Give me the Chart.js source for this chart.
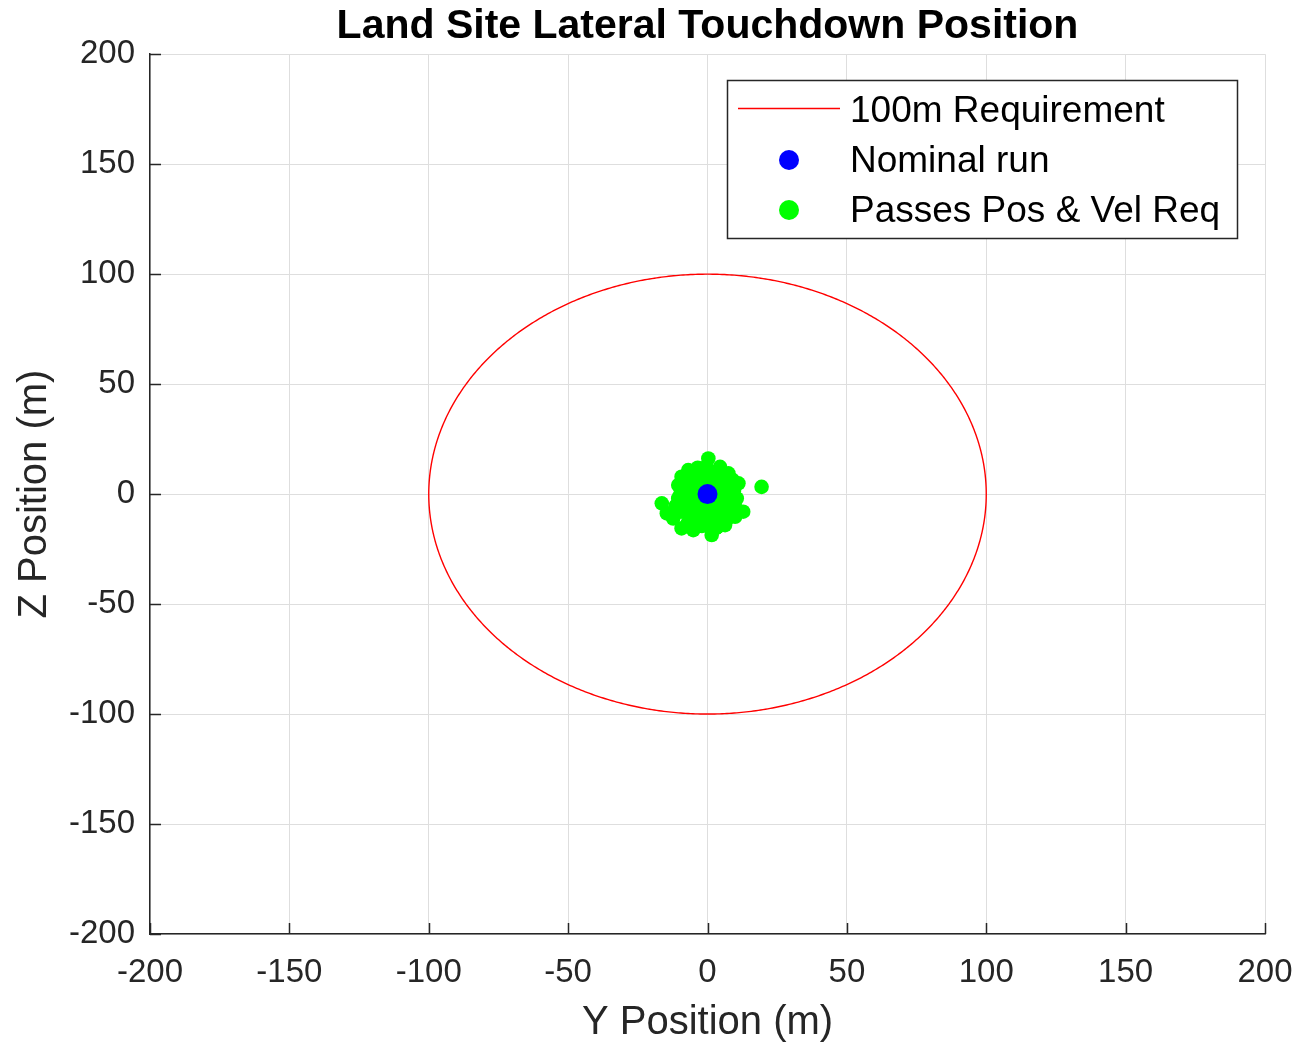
<!DOCTYPE html>
<html>
<head>
<meta charset="utf-8">
<script src="https://cdn.jsdelivr.net/npm/chart.js@4.4.1/dist/chart.umd.min.js"></script>
<style>
  html, body { margin: 0; padding: 0; background: #ffffff; }
  canvas { display: block; }
</style>
</head>
<body>
<canvas id="touchdown" width="1299" height="1045"></canvas>
<script>
// Axis ticks (both axes share the same range)
const axisTicks = [-200, -150, -100, -50, 0, 50, 100, 150, 200];
const tickLabels = ['-200', '-150', '-100', '-50', '0', '50', '100', '150', '200'];

// Nominal run touchdown point (Y, Z) in metres
const nominalY = [0];
const nominalZ = [0];

// Dispersed runs that pass the position & velocity requirement (Y, Z) in metres
const passY = [0.3, -3.5, -6.9, -9.3, -10.5, -9.9, -16.4, -14.6, -12.3, -9.3, -5.1, -2.0,
  1.5, 3.5, 6.3, 9.9, 12.8, 10.5, 11.1, 19.4, 7.5, 4.5, 3.9, -2.0,
  -6.5, -4.0, -1.0, 2.0, 5.5, 8.0, -7.5, -5.0, -2.5, 1.0, 4.0, 6.5,
  -8.0, -5.5, -3.0, 2.5, 4.5, 8.0, -7.0, -4.5, -1.5, 1.0, 3.5, 6.5,
  -9.5, -6.5, -3.5, -0.5, 2.5, 5.0, -7.0, -3.0, 0.5, 8.5, -11.5, -0.5, 9.5, 10.0,
  -8.5, -6.0, 6.0, 9.0, -2.0, 3.0, -10.5, 7.0, -4.0, 1.5];
const passZ = [16.2, 12.0, 10.9, 7.9, 4.1, -0.5, -4.2, -8.8, -11.1, -15.6, -16.4, -14.5,
  -18.6, -15.0, -14.1, -10.3, -8.0, -2.0, 4.9, 3.3, 9.4, 12.4, 9.4, 10.5,
  6.0, 7.5, 8.0, 6.5, 6.0, 3.5, 2.0, 3.5, 4.0, 3.5, 2.5, 0.5,
  -2.5, -1.0, 0.5, -0.5, -2.5, -4.0, -6.0, -4.5, -3.5, -5.0, -6.5, -7.0,
  -8.0, -10.0, -8.5, -9.0, -10.5, -11.0, -13.0, -12.5, -13.0, -8.5, -5.5, 12.5, 1.5, -6.0,
  1.0, 9.0, -3.0, 6.5, -6.5, -15.5, -2.0, -11.5, 11.0, 10.0];

// Landing requirement: circle of this radius about the target
const requirementRadius = 100;
const circleStepDeg = 1;

const requirementLine = [];
for (let a = 90; a <= 450; a += circleStepDeg) {
  const t = a * Math.PI / 180;
  requirementLine.push({ x: requirementRadius * Math.cos(t), y: requirementRadius * Math.sin(t) });
}
const nominalPoints = nominalY.map((y, i) => ({ x: y, y: nominalZ[i] }));
const passPoints = passY.map((y, i) => ({ x: y, y: passZ[i] }));

const FONT = "'Liberation Sans', Arial, Helvetica, sans-serif";
const AXIS_COLOR = '#262626';
const GRID_COLOR = '#dedede';

// Short inward tick marks on the left and bottom axes
const inwardTicks = {
  id: 'inwardTicks',
  afterDatasetsDraw(chart) {
    const { ctx, chartArea, scales } = chart;
    const len = 11;
    ctx.save();
    ctx.strokeStyle = AXIS_COLOR;
    ctx.lineWidth = 1.5;
    ctx.beginPath();
    axisTicks.forEach(v => {
      const px = Math.round(scales.x.getPixelForValue(v)) + 0.5;
      ctx.moveTo(px, chartArea.bottom);
      ctx.lineTo(px, chartArea.bottom - len);
      const py = Math.round(scales.y.getPixelForValue(v)) + 0.5;
      ctx.moveTo(chartArea.left, py);
      ctx.lineTo(chartArea.left + len, py);
    });
    ctx.stroke();
    ctx.restore();
  }
};

// Boxed legend in the upper-right corner of the axes
const boxLegend = {
  id: 'boxLegend',
  afterDraw(chart) {
    const { ctx } = chart;
    const ds = chart.data.datasets;
    const box = { x: 727.5, y: 80.5, w: 510, h: 158 };
    ctx.save();
    ctx.fillStyle = '#ffffff';
    ctx.fillRect(box.x, box.y, box.w, box.h);
    ctx.strokeStyle = AXIS_COLOR;
    ctx.lineWidth = 1.5;
    ctx.strokeRect(box.x, box.y, box.w, box.h);

    const rows = [111, 161, 211];
    const order = [2, 0, 1]; // requirement, nominal, passes
    ctx.font = '37px ' + FONT;
    ctx.textBaseline = 'middle';
    ctx.textAlign = 'left';
    order.forEach((di, r) => {
      const d = ds[di];
      const cy = rows[r];
      if (di === 2) {
        ctx.strokeStyle = d.borderColor;
        ctx.lineWidth = 1.4;
        ctx.beginPath();
        ctx.moveTo(738, cy - 2.5);
        ctx.lineTo(840, cy - 2.5);
        ctx.stroke();
      } else {
        ctx.fillStyle = d.backgroundColor;
        ctx.beginPath();
        ctx.arc(789, cy - 1, 10, 0, Math.PI * 2);
        ctx.fill();
      }
      ctx.fillStyle = '#000000';
      ctx.fillText(d.label, 850, cy + 1);
    });
    ctx.restore();
  }
};

new Chart(document.getElementById('touchdown'), {
  type: 'scatter',
  data: {
    datasets: [
      {
        label: 'Nominal run',
        data: nominalPoints,
        backgroundColor: '#0000ff',
        borderWidth: 0,
        pointRadius: 10,
        pointHoverRadius: 10
      },
      {
        label: 'Passes Pos & Vel Req',
        data: passPoints,
        backgroundColor: '#00ff00',
        borderWidth: 0,
        pointRadius: 7.3,
        pointHoverRadius: 7.3
      },
      {
        type: 'line',
        label: '100m Requirement',
        data: requirementLine,
        borderColor: '#ff0000',
        borderWidth: 1.4,
        borderJoinStyle: 'round',
        pointRadius: 0,
        fill: false,
        // a tiny tension keeps the renderer on the full path (no x-pixel merging)
        tension: 0.001
      }
    ]
  },
  options: {
    responsive: false,
    animation: false,
    events: [],
    layout: { padding: { left: 0, right: 34, top: 0, bottom: 0 } },
    plugins: {
      legend: { display: false },
      tooltip: { enabled: false },
      title: {
        display: true,
        text: 'Land Site Lateral Touchdown Position',
        fullSize: false,
        color: '#000000',
        font: { family: FONT, size: 41, weight: 'bold', lineHeight: 1.2 },
        padding: { top: 2, bottom: 3 }
      }
    },
    scales: {
      x: {
        type: 'linear',
        min: -200,
        max: 200,
        afterFit(s) { s.height = 111; s.paddingLeft = 0; s.paddingRight = 0; },
        afterBuildTicks(s) { s.ticks = axisTicks.map(v => ({ value: v })); },
        ticks: {
          color: AXIS_COLOR,
          padding: 19,
          maxRotation: 0,
          font: { family: FONT, size: 33 },
          callback: (v) => tickLabels[axisTicks.indexOf(v)]
        },
        grid: { color: GRID_COLOR, lineWidth: 1, drawTicks: false },
        border: { display: true, color: AXIS_COLOR, width: 1.5 },
        title: {
          display: true,
          text: 'Y Position (m)',
          color: AXIS_COLOR,
          font: { family: FONT, size: 40, lineHeight: 1.1 },
          padding: { top: 0, bottom: 0 }
        }
      },
      y: {
        type: 'linear',
        min: -200,
        max: 200,
        afterFit(s) { s.width = 150; s.paddingTop = 0; s.paddingBottom = 0; },
        afterBuildTicks(s) { s.ticks = axisTicks.map(v => ({ value: v })); },
        ticks: {
          color: AXIS_COLOR,
          padding: 15,
          font: { family: FONT, size: 33 },
          callback: (v) => tickLabels[axisTicks.indexOf(v)]
        },
        grid: { color: GRID_COLOR, lineWidth: 1, drawTicks: false },
        border: { display: true, color: AXIS_COLOR, width: 1.5 },
        title: {
          display: true,
          text: 'Z Position (m)',
          color: AXIS_COLOR,
          font: { family: FONT, size: 40, lineHeight: 1.2 },
          padding: { top: 11, bottom: 0 }
        }
      }
    }
  },
  plugins: [inwardTicks, boxLegend]
});
</script>
</body>
</html>
